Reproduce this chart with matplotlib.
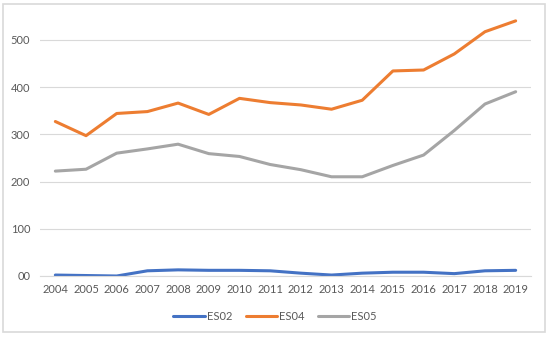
import matplotlib
matplotlib.use('Agg')
import matplotlib.pyplot as plt
from matplotlib.patches import Rectangle

# DATA
years = [str(y) for y in range(2004, 2020)]
es02 = [2, 1, 0, 11, 13, 12, 12, 11, 6, 2, 6, 8, 8, 5, 11, 12]
es04 = [327, 297, 344, 348, 366, 342, 376, 367, 362, 353, 372, 434, 436, 470, 517, 540]
es05 = [222, 226, 260, 269, 279, 259, 253, 236, 225, 210, 210, 234, 256, 308, 364, 390]
y_ticks = [0, 100, 200, 300, 400, 500]
y_labels = ['00', '100', '200', '300', '400', '500']

plt.rcParams['font.family'] = ['Lato', 'DejaVu Sans']
text_color = '#595959'

fig = plt.figure(figsize=(5.5, 3.41), dpi=100)
ax = fig.add_axes([40 / 550, 65 / 341, 491 / 550, 266 / 341])

x = list(range(len(years)))
ax.plot(x, es02, color='#4472C4', linewidth=2.2, label='ES02', solid_capstyle='round')
ax.plot(x, es04, color='#ED7D31', linewidth=2.2, label='ES04', solid_capstyle='round')
ax.plot(x, es05, color='#A5A5A5', linewidth=2.2, label='ES05', solid_capstyle='round')

ax.set_xlim(-0.5, len(years) - 0.5)
ax.set_ylim(0, 563)
ax.set_xticks(x)
ax.set_xticklabels(years)
ax.set_yticks(y_ticks)
ax.set_yticklabels(y_labels)
ax.tick_params(axis='both', length=0, labelsize=8, colors=text_color)
ax.tick_params(axis='x', pad=6)
ax.tick_params(axis='y', pad=7)
ax.grid(axis='y', color='#D9D9D9', linewidth=0.8)
ax.set_axisbelow(True)
for side in ['top', 'right', 'left']:
    ax.spines[side].set_visible(False)
ax.spines['bottom'].set_color('#D9D9D9')
ax.spines['bottom'].set_linewidth(0.8)

fig.legend(loc='center', bbox_to_anchor=(0.5, 25 / 341), ncol=3, frameon=False,
           fontsize=8, labelcolor=text_color, handlelength=2.8, columnspacing=1.2,
           handletextpad=0.2)

# outer chart border
fig.patches.append(Rectangle((3 / 550, 9 / 341), 542 / 550, 328 / 341,
                             transform=fig.transFigure, fill=False,
                             edgecolor='#D9D9D9', linewidth=1.2))

fig.savefig('out.png', dpi=100)
